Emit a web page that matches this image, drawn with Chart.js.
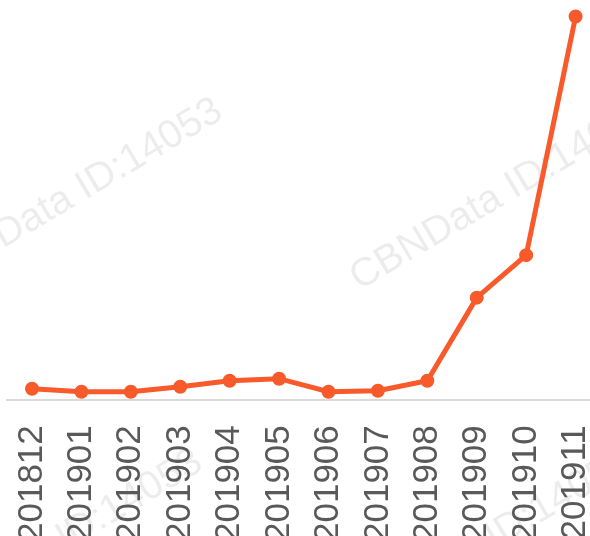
<!DOCTYPE html>
<html>
<head>
<meta charset="utf-8">
<script src="https://cdn.jsdelivr.net/npm/chart.js@4"></script>
<style>
html,body{margin:0;padding:0;overflow:hidden;width:590px;height:536px;background:#fff;}
#wrap{position:absolute;left:0;top:0;width:610px;height:567px;}
</style>
</head>
<body>
<div id="wrap"><canvas id="c"></canvas></div>
<script>
const categories = ['201812','201901','201902','201903','201904','201905','201906','201907','201908','201909','201910','201911'];
const values = [11.5, 8.5, 8.5, 13.5, 19.5, 21.5, 8.5, 9.5, 19.5, 102.5, 145, 383.5];
const watermarkText = 'CBNData ID:14053';

const watermark = {
  id: 'watermark',
  beforeDraw(chart) {
    const ctx = chart.ctx;
    const spots = [[72,195],[501,194],[52,546],[481,545]];
    ctx.save();
    ctx.font = '40px "Liberation Sans", Arial, sans-serif';
    ctx.fillStyle = 'rgba(0,0,0,0.075)';
    ctx.textAlign = 'center';
    ctx.textBaseline = 'middle';
    for (const [x,y] of spots) {
      ctx.save();
      ctx.translate(x,y);
      ctx.rotate(-30.6*Math.PI/180);
      ctx.fillText(watermarkText,0,0);
      ctx.restore();
    }
    ctx.restore();
  }
};

new Chart(document.getElementById('c'), {
  type: 'line',
  data: {
    labels: categories,
    datasets: [{
      data: values,
      borderColor: '#f85a2b',
      backgroundColor: '#f85a2b',
      borderWidth: 5,
      pointRadius: 6,
      pointBorderWidth: 2,
      pointBackgroundColor: '#f85a2b',
      pointBorderColor: '#f85a2b',
      tension: 0,
      fill: false,
      clip: false
    }]
  },
  options: {
    responsive: true,
    maintainAspectRatio: false,
    animation: false,
    layout: { autoPadding: false, padding: { left: 7.3, right: 9.7, top: 0, bottom: 0 } },
    plugins: { legend: { display: false }, tooltip: { enabled: false } },
    scales: {
      x: {
        offset: true,
        grid: { display: false, drawTicks: false },
        border: { display: true, color: '#d9d9d9', width: 2 },
        afterFit(scale) { scale.paddingLeft = 0; scale.paddingRight = 0; },
        ticks: {
          minRotation: 90, maxRotation: 90,
          autoSkip: false,
          padding: 25,
          color: '#595959',
          font: { family: '"Liberation Sans", Arial, sans-serif', size: 35 }
        }
      },
      y: {
        display: false,
        min: 0, max: 400
      }
    }
  },
  plugins: [watermark]
});
</script>
</body>
</html>
